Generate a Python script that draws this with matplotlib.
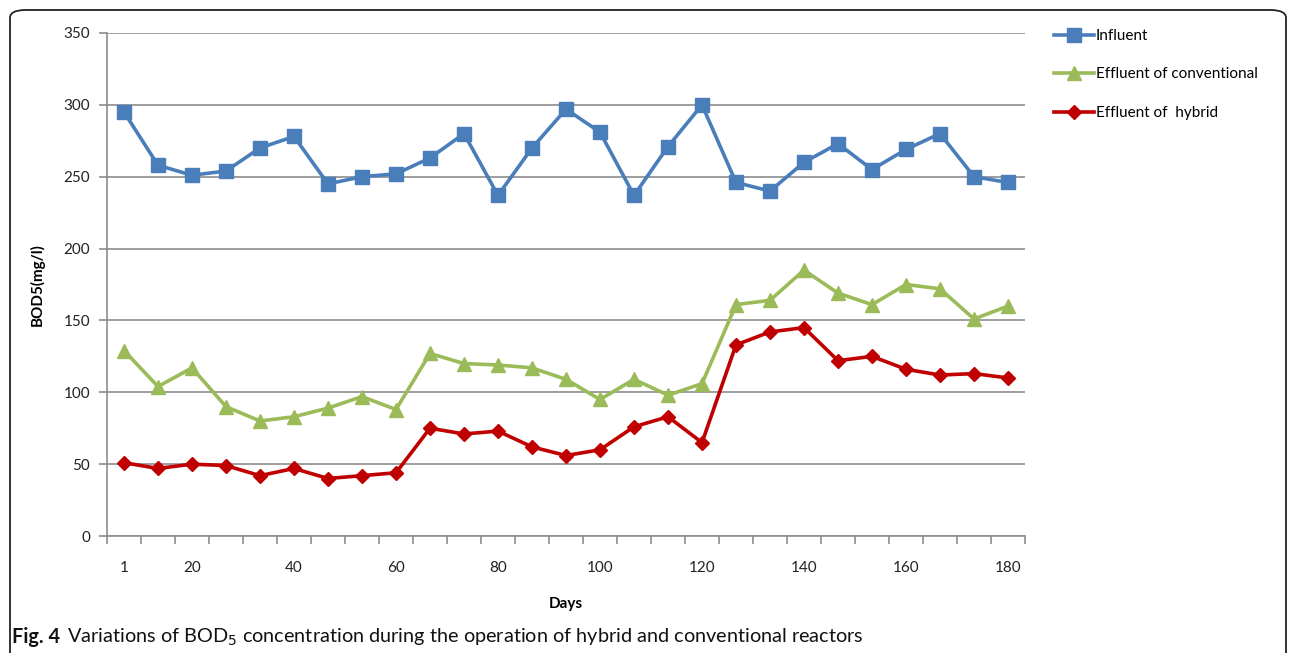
import matplotlib
matplotlib.use("Agg")
import matplotlib.pyplot as plt
from matplotlib.patches import FancyBboxPatch
import numpy as np

# ---- data ----
influent = [295, 258, 251, 254, 270, 278, 245, 250, 252, 263, 280, 237, 270, 297,
            281, 237, 271, 300, 246, 240, 260, 273, 255, 269, 280, 250, 246]
conventional = [129, 104, 117, 90, 80, 83, 89, 97, 88, 127, 120, 119, 117, 109,
                95, 109, 98, 106, 161, 164, 185, 169, 161, 175, 172, 151, 160]
hybrid = [51, 47, 50, 49, 42, 47, 40, 42, 44, 75, 71, 73, 62, 56,
          60, 76, 83, 65, 133, 142, 145, 122, 125, 116, 112, 113, 110]
series_names = ["Influent", "Effluent of conventional", "Effluent of  hybrid"]
tick_labels = ["1", "20", "40", "60", "80", "100", "120", "140", "160", "180"]
tick_label_index = [0, 2, 5, 8, 11, 14, 17, 20, 23, 26]
y_ticks = [0, 50, 100, 150, 200, 250, 300, 350]

W, H = 1290, 653
fig = plt.figure(figsize=(W / 100, H / 100), dpi=100)
plt.rcParams['font.family'] = ['Lato', 'DejaVu Sans']

# outer rounded frame
frame = FancyBboxPatch((10 / W, -0.05), (1286 - 10) / W, (H - 10) / H + 0.05,
                       boxstyle="round,pad=0,rounding_size=0.012",
                       transform=fig.transFigure, fill=False,
                       edgecolor="#222222", linewidth=1.3, clip_on=False)
fig.patches.append(frame)

ax = fig.add_axes([107 / W, 1 - 536 / H, (1025 - 107) / W, (536 - 33) / H])
x = np.arange(len(influent))

ax.plot(x, influent, color="#4a7ebb", lw=2.6, marker="s", ms=10,
        markeredgecolor="#4a7ebb", label=series_names[0], zorder=3)
ax.plot(x, conventional, color="#9bbb59", lw=2.6, marker="^", ms=10,
        markeredgecolor="#9bbb59", label=series_names[1], zorder=3)
ax.plot(x, hybrid, color="#c00000", lw=2.6, marker="D", ms=7,
        markeredgecolor="#c00000", label=series_names[2], zorder=3)

ax.set_xlim(-0.5, len(influent) - 0.5)
ax.set_ylim(0, 350)
ax.set_yticks(y_ticks)
ax.yaxis.grid(True, color="#8c8c8c", lw=1.2)
ax.set_axisbelow(True)
for s in ["top", "right"]:
    ax.spines[s].set_visible(False)
for s in ["left", "bottom"]:
    ax.spines[s].set_color("#8c8c8c")
    ax.spines[s].set_linewidth(1.2)
ax.tick_params(axis="y", length=6, color="#8c8c8c", width=1.2, labelsize=11,
               labelcolor="#222222", pad=6)

ax.set_xticks(tick_label_index)
ax.set_xticklabels(tick_labels)
ax.set_xticks(np.arange(-0.5, len(influent)), minor=True)
ax.tick_params(axis="x", which="major", length=0, labelsize=11,
               labelcolor="#222222", pad=18)
ax.tick_params(axis="x", which="minor", length=6, color="#8c8c8c", width=1.2)

ax.set_xlabel("Days", fontsize=11, fontweight="bold", labelpad=16)
ax.set_ylabel("BOD5(mg/l)", fontsize=11, fontweight="bold", labelpad=14)

leg = ax.legend(loc="upper left", bbox_to_anchor=(1.025, 1.020), frameon=False,
                fontsize=11, handlelength=2.6, labelspacing=1.6,
                handletextpad=0.15, borderaxespad=0)

fig.text(12 / W, 1 - 637 / H, "Fig. 4", fontsize=14.3, fontweight="bold",
         va="center", ha="left", color="#111111")
fig.text(67 / W, 1 - 637 / H,
         "Variations of BOD$_5$ concentration during the operation of hybrid and conventional reactors",
         fontsize=14.3, va="center", ha="left", color="#111111")

fig.savefig("out.png", dpi=100)
